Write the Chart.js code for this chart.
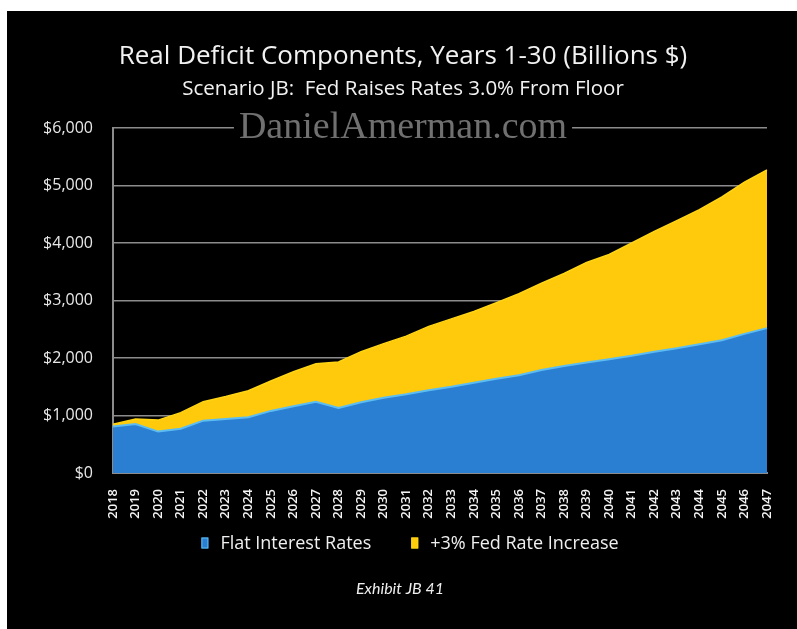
<!DOCTYPE html>
<html>
<head>
<meta charset="utf-8">
<script src="https://cdn.jsdelivr.net/npm/chart.js@4.4.1/dist/chart.umd.min.js"></script>
<style>
    body { margin: 0; background: #fff; }
    .panel { position: absolute; left: 7px; top: 11px; width: 790px; height: 618px; background: #000; }
</style>
</head>
<body>
<div class="panel"><canvas id="deficitChart" width="790" height="618"></canvas></div>
<script>
const years = ["2018", "2019", "2020", "2021", "2022", "2023", "2024", "2025", "2026", "2027",
    "2028", "2029", "2030", "2031", "2032", "2033", "2034", "2035", "2036", "2037",
    "2038", "2039", "2040", "2041", "2042", "2043", "2044", "2045", "2046", "2047"];

// Billions of dollars, flat rate component
const flatRates = [810, 850, 720, 770, 910, 940, 970, 1080, 1160, 1240,
    1130, 1230, 1310, 1370, 1440, 1500, 1570, 1640, 1700, 1790,
    1860, 1920, 1980, 2040, 2110, 2170, 2240, 2310, 2420, 2520];

// Extra cost from the +3% Fed rate increase, stacked on top
const fedIncrease = [40, 90, 200, 280, 330, 390, 460, 520, 600, 660,
    800, 880, 940, 1010, 1110, 1180, 1240, 1320, 1420, 1510,
    1610, 1740, 1820, 1960, 2090, 2220, 2340, 2490, 2640, 2750];

const yTickValues = [0, 1000, 2000, 3000, 4000, 5000, 6000];

const chartTitle = "Real Deficit Components, Years 1-30 (Billions $)";
const chartSubtitle = "Scenario JB:  Fed Raises Rates 3.0% From Floor";
const watermark = "DanielAmerman.com";
const exhibitLabel = "Exhibit JB 41";

const fontFamily = "'Open Sans'";

// Titles, watermark, legend row and exhibit caption
const captionPlugin = {
    id: "captions",
    afterDraw(chart) {
        const ctx = chart.ctx;
        ctx.save();
        ctx.textAlign = "center";
        ctx.textBaseline = "alphabetic";

        ctx.fillStyle = "#f2f2f2";
        ctx.font = "26px " + fontFamily;
        ctx.fillText(chartTitle, 396, 53);

        ctx.font = "20.5px " + fontFamily;
        ctx.fillText(chartSubtitle, 396, 84);

        // watermark sits on a black patch over the top gridline
        ctx.font = "38px 'Liberation Serif'";
        const w = ctx.measureText(watermark).width;
        ctx.fillStyle = "#000";
        ctx.fillRect(396 - w / 2 - 5, 98, w + 10, 34);
        ctx.fillStyle = "rgba(140, 140, 140, 0.8)";
        ctx.fillText(watermark, 396, 127);

        // legend: small colour box, label, wide gap between items
        ctx.font = "18px " + fontFamily;
        ctx.textAlign = "left";
        ctx.textBaseline = "middle";
        const boxW = 7, boxH = 11, textGap = 12, itemGap = 40, legendY = 532;
        const items = chart.data.datasets.map(ds => ({
            ds: ds,
            width: boxW + textGap + ctx.measureText(ds.label).width
        }));
        const total = items.reduce((s, it) => s + it.width, 0) + itemGap * (items.length - 1);
        let x = 403 - total / 2;
        items.forEach(it => {
            ctx.fillStyle = it.ds.backgroundColor;
            ctx.fillRect(x, legendY - boxH / 2, boxW, boxH);
            ctx.strokeStyle = it.ds.borderColor;
            ctx.lineWidth = 1;
            ctx.strokeRect(x + 0.5, legendY - boxH / 2 + 0.5, boxW - 1, boxH - 1);
            ctx.fillStyle = "#f0f0f0";
            ctx.fillText(it.ds.label, x + boxW + textGap, legendY + 1);
            x += it.width + itemGap;
        });

        ctx.textAlign = "center";
        ctx.textBaseline = "alphabetic";
        ctx.fillStyle = "#eeeeee";
        ctx.font = "italic 16px Lato";
        ctx.fillText(exhibitLabel, 393, 583);
        ctx.restore();
    }
};

document.addEventListener("DOMContentLoaded", function () {
    const ctx = document.getElementById("deficitChart");

    new Chart(ctx, {
        type: "line",
        data: {
            labels: years,
            datasets: [{
                label: "Flat Interest Rates",
                data: flatRates,
                backgroundColor: "#2b7fd3",
                borderColor: "#5cbdf3",
                borderWidth: 2,
                fill: "origin",
                pointRadius: 0,
                tension: 0
            }, {
                label: "+3% Fed Rate Increase",
                data: fedIncrease,
                backgroundColor: "#ffc90c",
                borderColor: "#ffd514",
                borderWidth: 1.5,
                fill: "-1",
                pointRadius: 0,
                tension: 0
            }]
        },
        options: {
            responsive: false,
            animation: false,
            layout: {
                padding: { top: 117, right: 30, left: 20, bottom: 96 }
            },
            plugins: {
                title: { display: false },
                tooltip: { enabled: false },
                legend: { display: false }
            },
            scales: {
                x: {
                    grid: { display: false },
                    border: { display: true, color: "#8c8c8c", width: 2 },
                    ticks: {
                        color: "#f4f4f4",
                        font: { family: fontFamily, size: 13, weight: "600" },
                        minRotation: 90,
                        maxRotation: 90,
                        autoSkip: false,
                        padding: 8
                    },
                    afterFit: axis => { axis.height = 60; }
                },
                y: {
                    stacked: true,
                    min: 0,
                    max: 6000,
                    afterBuildTicks: axis => { axis.ticks = yTickValues.map(v => ({ value: v })); },
                    grid: { color: "#8c8c8c", lineWidth: 1.5, drawTicks: false },
                    border: { display: true, color: "#8c8c8c", width: 2 },
                    ticks: {
                        color: "#e8e8e8",
                        font: { family: fontFamily, size: 16 },
                        padding: 20,
                        callback: value => "$" + value.toLocaleString("en-US")
                    },
                    afterFit: axis => { axis.width = 86; }
                }
            }
        },
        plugins: [captionPlugin]
    });
});
</script>
</body>
</html>
